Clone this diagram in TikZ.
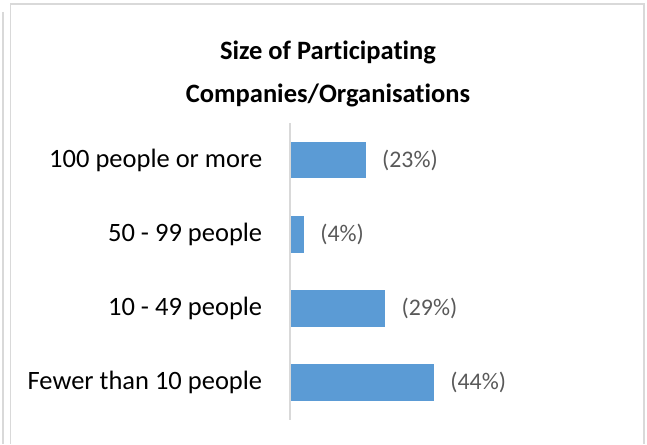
\documentclass[tikz,border=0pt]{standalone}
\usepackage{fontspec}
\setmainfont{Carlito}[Ligatures=NoCommon]
\usepackage{tikz}
\definecolor{barblue}{HTML}{5B9BD5}
\definecolor{framegray}{HTML}{D9D9D9}
\definecolor{valgray}{HTML}{595959}
\tikzset{
    every path/.style={line width=1.6pt},
    cat/.style={anchor=east, inner sep=0pt, font=\fontsize{26.5}{32}\selectfont},
    bar/.style={fill=barblue, anchor=west, minimum height=36.6pt, inner sep=0pt},
    val/.style={anchor=west, inner sep=0pt, text=valgray, font=\fontsize{23.8}{28}\selectfont},
    ttl/.style={inner sep=0pt, align=center, font=\bfseries\fontsize{26.5}{43}\selectfont},
    frame/.style={draw=framegray},
    axis/.style={draw=framegray, line width=2pt}
}

\begin{document}
\begin{tikzpicture}[x=1pt, y=-1pt]
\useasboundingbox (0,0) rectangle (647,444);

% chart area border
\draw[frame] (10.5,444) -- (10.5,4) -- (644,4) -- (644,444);
\draw[frame] (3,12) -- (3,444);

\node[ttl] at (328,74) (title) {Size of Participating\\Companies/Organisations};

\node[bar, minimum width=74.75pt] at (290,160) (b1) {};
\node[bar, minimum width=13pt] at (290,234.2) (b2) {};
\node[bar, minimum width=94.25pt] at (290,308.3) (b3) {};
\node[bar, minimum width=143pt] at (290,382.5) (b4) {};

\node[cat] at (263,160) (c1) {100 people or more};
\node[cat] at (263,234.2) (c2) {50 - 99 people};
\node[cat] at (263,308.3) (c3) {10 - 49 people};
\node[cat] at (263,382.5) (c4) {Fewer than 10 people};

\node[val] at ([xshift=15pt]b1.east) (v1) {(23\%)};
\node[val] at ([xshift=15pt]b2.east) (v2) {(4\%)};
\node[val] at ([xshift=15pt]b3.east) (v3) {(29\%)};
\node[val] at ([xshift=15pt]b4.east) (v4) {(44\%)};

% category axis
\draw[axis] (289.5,123) -- (289.5,420);
\end{tikzpicture}
\end{document}
